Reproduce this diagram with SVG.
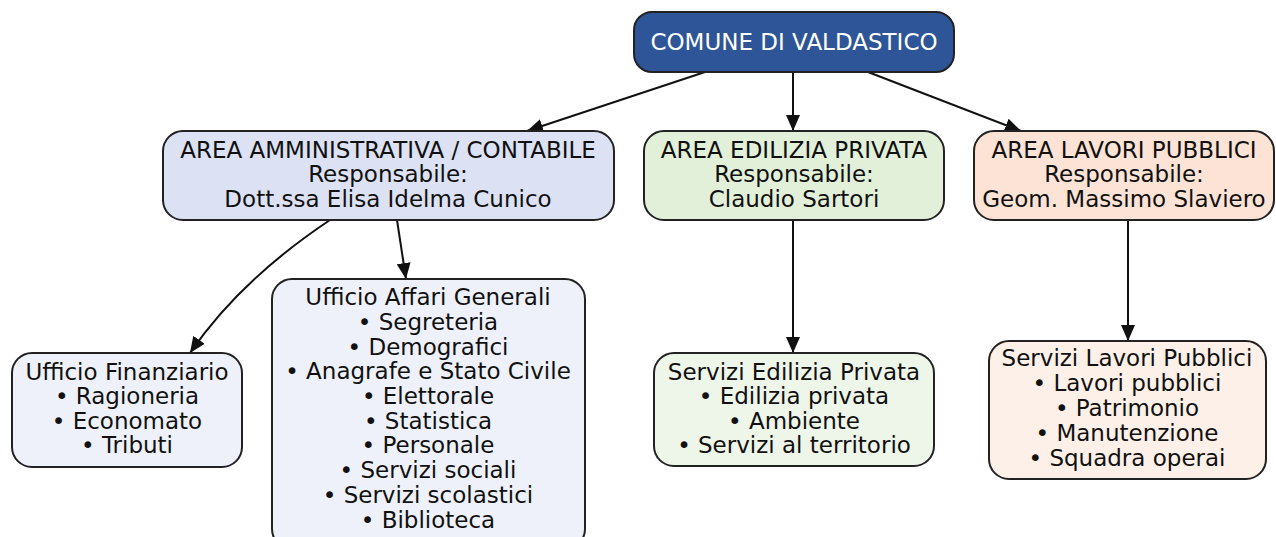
<svg xmlns="http://www.w3.org/2000/svg" width="1276" height="537" viewBox="0 0 1276 537">
<style>
text{font-family:"DejaVu Sans","Liberation Sans",sans-serif;font-size:23px;fill:#111;text-anchor:middle}
.node{stroke:#222;stroke-width:2}
.edge{fill:none;stroke:#111;stroke-width:2}
</style>
<defs>
<marker id="arr" viewBox="0 0 16 14" refX="16" refY="7" markerWidth="16" markerHeight="14" markerUnits="userSpaceOnUse" orient="auto">
<path d="M0,0 L16,7 L0,14 z" fill="#111"/>
</marker>
</defs>
<rect width="1276" height="537" fill="#fff"/>
<g id="connectors">
<path class="edge" d="M705,72 L527,131" marker-end="url(#arr)"/>
<path class="edge" d="M793,72 L793,131" marker-end="url(#arr)"/>
<path class="edge" d="M868,72 L1021,131" marker-end="url(#arr)"/>
<path class="edge" d="M330,220 Q240,280 190,353" marker-end="url(#arr)"/>
<path class="edge" d="M397,220 L406,279" marker-end="url(#arr)"/>
<path class="edge" d="M793,220 L793,353" marker-end="url(#arr)"/>
<path class="edge" d="M1128,220 L1128,341" marker-end="url(#arr)"/>
</g>
<g id="comune">
<rect class="node" x="634" y="12" width="320" height="60" rx="18" fill="#2d5597"/>
<text x="794" y="50" style="fill:#fff">COMUNE DI VALDASTICO</text>
</g>
<g id="area-amm">
<rect class="node" x="163" y="131" width="451" height="89" rx="20" fill="#dce2f4"/>
<text x="388" y="158">AREA AMMINISTRATIVA / CONTABILE</text>
<text x="388" y="182">Responsabile:</text>
<text x="388" y="207">Dott.ssa Elisa Idelma Cunico</text>
</g>
<g id="area-edil">
<rect class="node" x="644" y="131" width="300" height="89" rx="20" fill="#e3f0d9"/>
<text x="794" y="158">AREA EDILIZIA PRIVATA</text>
<text x="794" y="182">Responsabile:</text>
<text x="794" y="207">Claudio Sartori</text>
</g>
<g id="area-lp">
<rect class="node" x="974" y="131" width="300" height="89" rx="20" fill="#fce3d5"/>
<text x="1124" y="158">AREA LAVORI PUBBLICI</text>
<text x="1124" y="182">Responsabile:</text>
<text x="1124" y="207">Geom. Massimo Slaviero</text>
</g>
<g id="uff-fin">
<rect class="node" x="12" y="353" width="230" height="114" rx="20" fill="#eef1fa"/>
<text x="127" y="380">Ufficio Finanziario</text>
<text x="127" y="404">• Ragioneria</text>
<text x="127" y="429">• Economato</text>
<text x="127" y="453">• Tributi</text>
</g>
<g id="uff-aff">
<rect class="node" x="272" y="279" width="313" height="270" rx="20" fill="#eef1fa"/>
<text x="428" y="305">Ufficio Affari Generali</text>
<text x="428" y="330">• Segreteria</text>
<text x="428" y="355">• Demografici</text>
<text x="428" y="379">• Anagrafe e Stato Civile</text>
<text x="428" y="404">• Elettorale</text>
<text x="428" y="429">• Statistica</text>
<text x="428" y="453">• Personale</text>
<text x="428" y="478">• Servizi sociali</text>
<text x="428" y="503">• Servizi scolastici</text>
<text x="428" y="528">• Biblioteca</text>
</g>
<g id="serv-edil">
<rect class="node" x="654" y="353" width="280" height="113" rx="20" fill="#eef5e9"/>
<text x="794" y="380">Servizi Edilizia Privata</text>
<text x="794" y="404">• Edilizia privata</text>
<text x="794" y="429">• Ambiente</text>
<text x="794" y="453">• Servizi al territorio</text>
</g>
<g id="serv-lp">
<rect class="node" x="989" y="341" width="277" height="138" rx="20" fill="#fdf0e8"/>
<text x="1127" y="366">Servizi Lavori Pubblici</text>
<text x="1127" y="391">• Lavori pubblici</text>
<text x="1127" y="416">• Patrimonio</text>
<text x="1127" y="441">• Manutenzione</text>
<text x="1127" y="466">• Squadra operai</text>
</g>
</svg>
